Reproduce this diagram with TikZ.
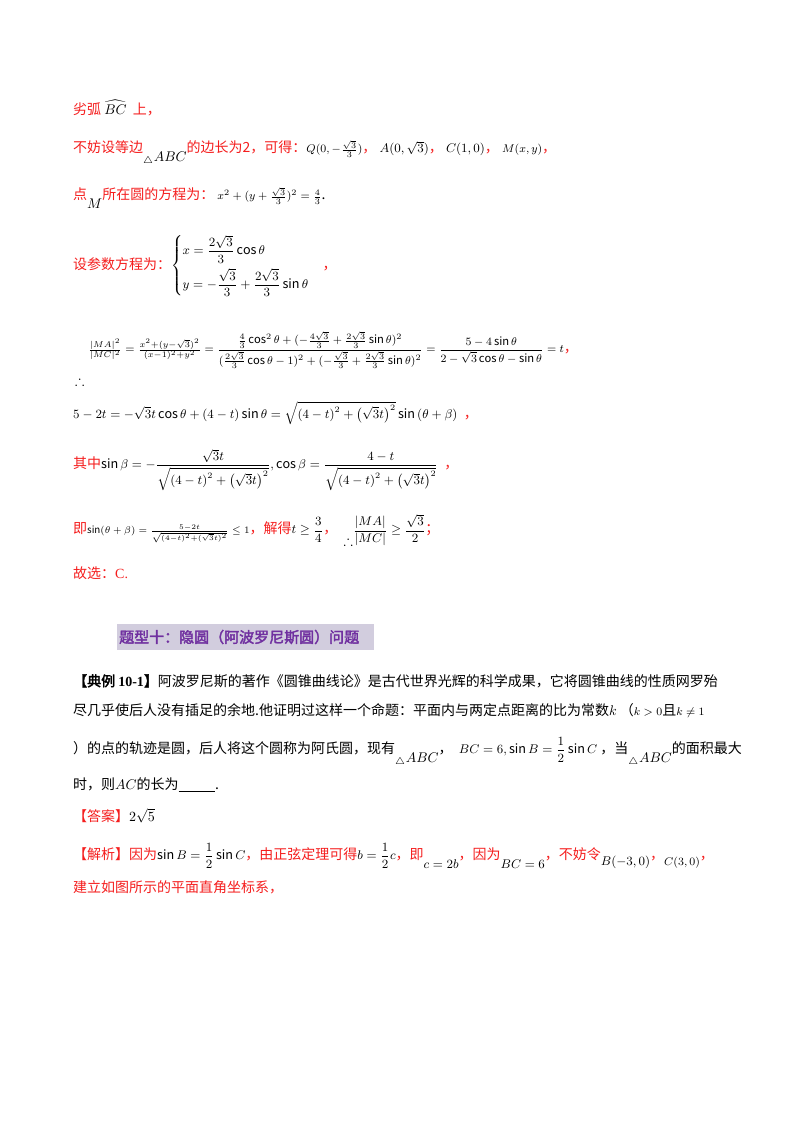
\documentclass[tikz,border=0pt]{standalone}
\usepackage{amsmath,amssymb,graphicx}
\usepackage{fontspec}
\setmainfont{Noto Sans CJK SC}
\newfontfamily\tnr{Liberation Serif}
\newfontfamily\cjkb[FakeBold=2.5]{Noto Sans CJK SC}
\definecolor{rd}{RGB}{245,30,30}
\definecolor{pu}{RGB}{112,48,160}
\definecolor{hl}{RGB}{210,205,222}
\newcommand\R[1]{\textcolor{rd}{#1}}
\newcommand\Sc[1]{\scalebox{1.4}{#1}}
\newcommand\sm{\footnotesize}
\newcommand\ms{\small}
\begin{document}
\begin{tikzpicture}[x=1pt,y=-1pt,
  ln/.style={anchor=west,inner sep=0pt,font=\normalsize}]
\useasboundingbox (0,0) rectangle (800,1132);
\fill[white] (0,0) rectangle (800,1132);
\node[ln] (l1) at (73,108) {\Sc{\R{劣弧} $\widehat{BC}$\ \ \R{上，}}};
\node[ln] (l2) at (73,153) {\Sc{\R{不妨设等边}\raisebox{-1.2ex}{$_\triangle ABC$}\R{的边长为2，可得：}{\sm$Q(0,-\frac{\sqrt3}{3})$}\R{，}\ {\ms$A(0,\sqrt3)$}\R{，}\ {\ms$C(1,0)$}\R{，}\ {\sm$M(x,y)$}\R{，}}};
\node[ln] (l3) at (73,198) {\Sc{\R{点}\raisebox{-1.2ex}{$M$}\R{所在圆的方程为：}\ {\sm$x^2+(y+\frac{\sqrt3}{3})^2=\frac43$}.}};
\node[ln] (l4) at (73,266) {\Sc{\R{设参数方程为：}{\ms$\begin{cases}x=\dfrac{2\sqrt3}{3}\cos\theta\\[6pt] y=-\dfrac{\sqrt3}{3}+\dfrac{2\sqrt3}{3}\sin\theta\end{cases}$}\R{，}}};
\node[ln] (th) at (75,381) {\Sc{$\therefore$}};
\node[ln] (l5) at (88,350) {\Sc{\footnotesize$\frac{|MA|^2}{|MC|^2}=\frac{x^2+(y-\sqrt3)^2}{(x-1)^2+y^2}=\dfrac{\frac43\cos^2\theta+(-\frac{4\sqrt3}{3}+\frac{2\sqrt3}{3}\sin\theta)^2}{(\frac{2\sqrt3}{3}\cos\theta-1)^2+(-\frac{\sqrt3}{3}+\frac{2\sqrt3}{3}\sin\theta)^2}=\dfrac{5-4\sin\theta}{2-\sqrt3\cos\theta-\sin\theta}=t$\normalsize\R{，}}};
\node[ln] (l6) at (73,413) {\Sc{{\ms$5-2t=-\sqrt3t\cos\theta+(4-t)\sin\theta=\sqrt{\left(4-t\right)^2+\left(\sqrt3t\right)^2}\sin\left(\theta+\beta\right)$}\ \ \R{，}}};
\node[ln] (l7) at (73,470) {\Sc{\R{其中}{\ms$\sin\beta=-\dfrac{\sqrt3t}{\sqrt{\left(4-t\right)^2+\left(\sqrt3t\right)^2}},\cos\beta=\dfrac{4-t}{\sqrt{\left(4-t\right)^2+\left(\sqrt3t\right)^2}}$}\ \ \R{，}}};
\node[ln] (l8) at (73,530) {\Sc{\R{即}{\scriptsize$\sin(\theta+\beta)=\frac{5-2t}{\sqrt{(4-t)^2+(\sqrt3t)^2}}\le1$}\R{，解得}{\ms$t\ge\dfrac34$}\R{，}\ \ \raisebox{-1.5ex}{$\therefore$}{\ms$\dfrac{|MA|}{|MC|}\ge\dfrac{\sqrt3}{2}$}\R{；}}};
\node[ln] (l9) at (73,573) {\Sc{\R{故选：}\R{\tnr C.}}};
\fill[hl] (117,624) rectangle (374,650);
\node[ln] (h) at (119,637) {\scalebox{1.5}{\cjkb\textcolor{pu}{题型十：隐圆（阿波罗尼斯圆）问题}}};
\node[ln] (p1) at (73,681) {\Sc{{\cjkb 【典例 {\tnr\bfseries 10-1}】}阿波罗尼斯的著作《圆锥曲线论》是古代世界光辉的科学成果，它将圆锥曲线的性质网罗殆}};
\node[ln] (p2) at (73,711) {\Sc{尽几乎使后人没有插足的余地.他证明过这样一个命题：平面内与两定点距离的比为常数$k$\ （{\sm$k>0$}且{\sm$k\ne1$}}};
\node[ln] (p3) at (73,752) {\Sc{）的点的轨迹是圆，后人将这个圆称为阿氏圆，现有\raisebox{-1.2ex}{$_\triangle ABC$}，\ \ {\ms$BC=6,\sin B=\dfrac12\sin C$}\ ，当\raisebox{-1.2ex}{$_\triangle ABC$}的面积最大}};
\node[ln] (p4) at (73,785) {\Sc{时，则$AC$的长为\underline{\hspace{2.6em}}.}};
\node[ln] (p5) at (73,816) {\Sc{\R{【答案】}$2\sqrt5$}};
\node[ln] (p6) at (73,856) {\Sc{\R{【解析】因为}{\ms$\sin B=\dfrac12\sin C$}\R{，由正弦定理可得}{\ms$b=\dfrac12c$}\R{，即}\raisebox{-1.2ex}{\ms$c=2b$}\R{，因为}\raisebox{-1.2ex}{\ms$BC=6$}\R{，不妨令}\raisebox{-0.8ex}{\ms$B(-3,0)$}\R{，}\raisebox{-0.8ex}{\sm$C(3,0)$}\R{，}}};
\node[ln] (p7) at (73,887) {\Sc{\R{建立如图所示的平面直角坐标系，}}};
\end{tikzpicture}
\end{document}
